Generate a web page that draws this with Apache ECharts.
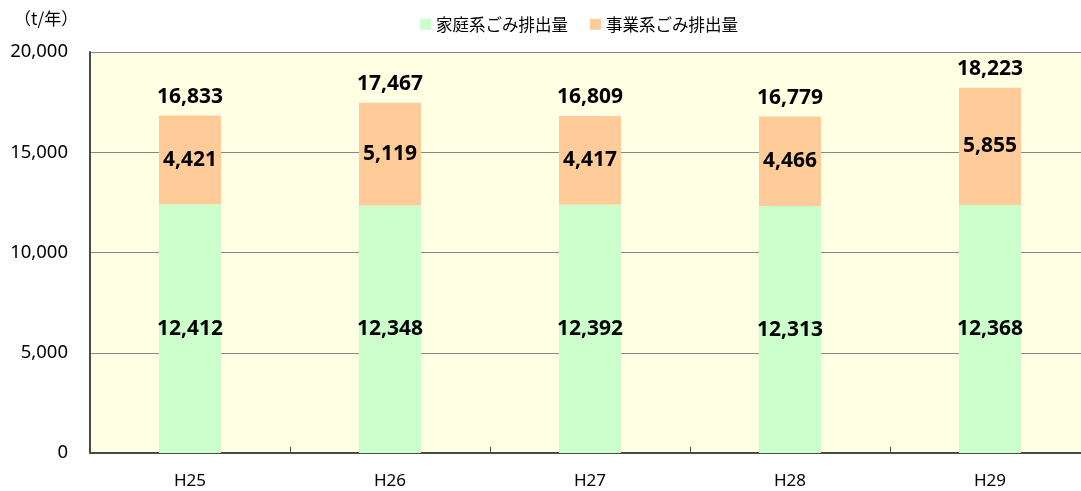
<!DOCTYPE html>
<html><head><meta charset="utf-8">
<script src="https://cdn.jsdelivr.net/npm/echarts@6/dist/echarts.min.js"></script>
<style>html,body{margin:0;padding:0;background:#fff}#c{width:1081px;height:491px}</style>
</head><body><div id="c"></div>
<script>
const categories = ['H25','H26','H27','H28','H29'];
const household = [12412,12348,12392,12313,12368];
const business = [4421,5119,4417,4466,5855];
const totals = [16833,17467,16809,16779,18223];
const seriesNames = ['家庭系ごみ排出量','事業系ごみ排出量'];
const yTicks = [0,5000,10000,15000,20000];

const fmt = v => v.toLocaleString('en-US');
const lab = {show:true,position:'inside',color:'#000',fontWeight:'bold',fontSize:21,fontFamily:'Noto Sans, sans-serif',formatter:p=>fmt(p.value)};
const chart = echarts.init(document.getElementById('c'));
chart.setOption({
  animation:false,
  textStyle:{fontFamily:'Noto Sans, Noto Sans CJK JP, sans-serif'},
  legend:{top:11,left:415,itemWidth:11,itemHeight:11,itemGap:22,icon:'rect',
    textStyle:{fontSize:16.5,color:'#000',fontFamily:'Noto Sans CJK JP'},data:seriesNames},
  graphic:[{type:'text',left:14,top:10,style:{text:'（t/年）',fontSize:17,fill:'#000',fontFamily:'Noto Sans CJK JP'}}],
  grid:{left:90,width:1000,top:52,height:401,show:true,backgroundColor:'#FFFFE3',borderWidth:0,containLabel:false,outerBoundsMode:'none'},
  xAxis:{type:'category',data:categories,
    axisLine:{lineStyle:{color:'#4a4a4a',width:2}},
    axisTick:{show:true,inside:true,length:6,lineStyle:{color:'#4a4a4a'}},
    axisLabel:{fontSize:17,color:'#000',margin:20}},
  yAxis:{type:'value',min:yTicks[0],max:yTicks[yTicks.length-1],interval:5000,
    axisLine:{show:true,lineStyle:{color:'#4a4a4a',width:2}},
    axisTick:{show:false},
    splitLine:{lineStyle:{color:'#888',width:1}},
    axisLabel:{fontSize:18.5,color:'#000',margin:22,formatter:v=>fmt(v)}},
  series:[
    {name:seriesNames[0],type:'bar',stack:'a',data:household,barWidth:'31%',itemStyle:{color:'#CCFFCC'},label:lab},
    {name:seriesNames[1],type:'bar',stack:'a',data:business,itemStyle:{color:'#FFCC99'},label:lab},
    {name:'total',type:'scatter',data:totals,symbolSize:0,itemStyle:{color:'#000',opacity:1},silent:true,
      label:{show:true,position:'top',distance:8,color:'#000',fontWeight:'bold',fontSize:21,fontFamily:'Noto Sans, sans-serif',formatter:p=>fmt(p.value)}}
  ]
});
</script></body></html>
